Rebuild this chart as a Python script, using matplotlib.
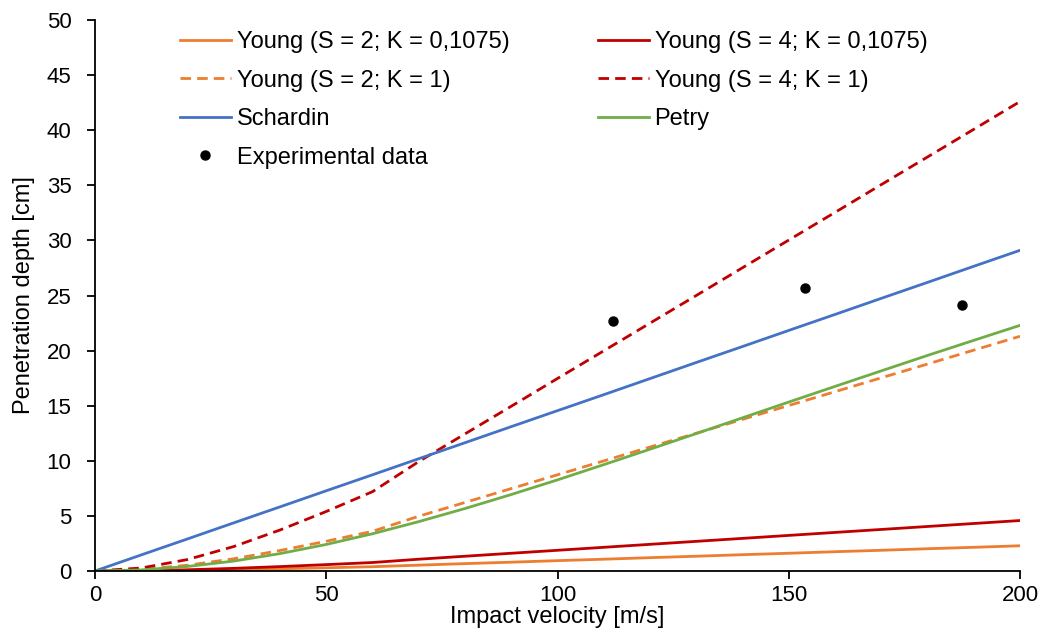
import matplotlib.pyplot as plt

plt.rcParams['font.family'] = ['Liberation Sans', 'DejaVu Sans']

# Impact velocity [m/s]
velocity = [0, 10, 20, 30, 40, 50, 60, 70, 80, 90, 100,
            110, 120, 130, 140, 150, 160, 170, 180, 190, 200]

# Penetration depth [cm]
young_s2_k01075 = [0, 0.01, 0.06, 0.12, 0.20, 0.29, 0.39, 0.53, 0.67, 0.80, 0.94,
                   1.07, 1.21, 1.34, 1.48, 1.61, 1.75, 1.88, 2.02, 2.15, 2.29]
young_s4_k01075 = [0, 0.03, 0.11, 0.24, 0.40, 0.58, 0.77, 1.07, 1.34, 1.61, 1.88,
                   2.15, 2.42, 2.69, 2.96, 3.23, 3.50, 3.77, 4.04, 4.31, 4.58]
young_s2_k1 = [0, 0.14, 0.52, 1.11, 1.86, 2.70, 3.60, 4.97, 6.22, 7.48, 8.73,
               9.99, 11.25, 12.50, 13.76, 15.02, 16.27, 17.53, 18.78, 20.04, 21.30]
young_s4_k1 = [0, 0.27, 1.04, 2.22, 3.72, 5.40, 7.20, 9.93, 12.44, 14.95, 17.47,
               19.98, 22.49, 25.00, 27.52, 30.03, 32.54, 35.06, 37.57, 40.08, 42.60]
schardin = [0, 1.46, 2.91, 4.37, 5.82, 7.28, 8.73, 10.19, 11.64, 13.10, 14.55,
            16.00, 17.46, 18.92, 20.37, 21.83, 23.28, 24.74, 26.19, 27.65, 29.10]
petry = [0, 0.10, 0.41, 0.90, 1.58, 2.41, 3.38, 4.48, 5.67, 6.94, 8.27,
         9.65, 11.05, 12.47, 13.90, 15.33, 16.75, 18.16, 19.56, 20.93, 22.29]

exp_velocity = [112.0, 153.5, 187.5]
exp_depth = [22.7, 25.7, 24.1]

ORANGE = "#ED7D31"
RED = "#C00000"
BLUE = "#4472C4"
GREEN = "#70AD47"
LW = 2.0
DASH = [3.8, 2.2]

W, H = 1044, 638
fig = plt.figure(figsize=(W / 100, H / 100), dpi=100)
ax = fig.add_axes([95 / W, 1 - 571 / H, 925 / W, 551 / H])

l1, = ax.plot(velocity, young_s2_k01075, color=ORANGE, lw=LW)
l2, = ax.plot(velocity, young_s4_k01075, color=RED, lw=LW)
l3, = ax.plot(velocity, young_s2_k1, color=ORANGE, lw=LW, dashes=DASH)
l4, = ax.plot(velocity, young_s4_k1, color=RED, lw=LW, dashes=DASH)
l5, = ax.plot(velocity, schardin, color=BLUE, lw=LW)
l6, = ax.plot(velocity, petry, color=GREEN, lw=LW)
l7, = ax.plot(exp_velocity, exp_depth, "o", color="black", ms=6.5, ls="none")

ax.set_xlim(0, 200)
ax.set_ylim(0, 50)
ax.set_xticks(range(0, 201, 50))
ax.set_yticks(range(0, 51, 5))
ax.tick_params(direction="out", length=6, width=1.3, labelsize=16, colors="black")
ax.tick_params(axis="y", pad=11)
ax.tick_params(axis="x", pad=4)
for side in ["top", "right"]:
    ax.spines[side].set_visible(False)
for side in ["left", "bottom"]:
    ax.spines[side].set_linewidth(1.3)

ax.set_xlabel("Impact velocity [m/s]", fontsize=17, labelpad=0)
ax.set_ylabel("Penetration depth [cm]", fontsize=17, labelpad=8)

handles = [l1, l3, l5, l7, l2, l4, l6]
labels = ["Young (S = 2; K = 0,1075)", "Young (S = 2; K = 1)", "Schardin",
          "Experimental data", "Young (S = 4; K = 0,1075)", "Young (S = 4; K = 1)",
          "Petry"]
fig.legend(handles, labels, ncol=2, loc="upper left",
           bbox_to_anchor=(180 / W, 1 - 31 / H), borderaxespad=0, borderpad=0,
           frameon=False, fontsize=17, handlelength=2.15, handletextpad=0.25,
           columnspacing=3.75, labelspacing=0.7)

fig.savefig("out.png", dpi=100)
